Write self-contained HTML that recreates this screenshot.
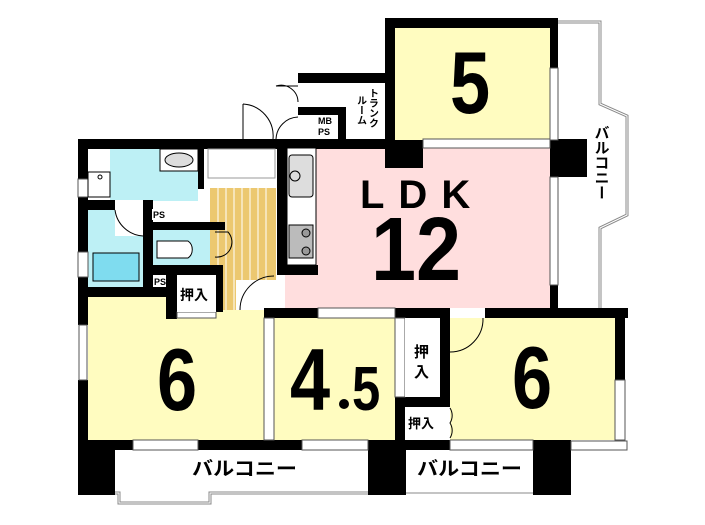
<!DOCTYPE html>
<html><head><meta charset="utf-8"><style>
body{margin:0;background:#fff}
svg{display:block}
text{font-family:"Liberation Sans","Noto Sans CJK JP",sans-serif;font-weight:bold;fill:#000}
</style></head><body>
<svg width="705" height="525" viewBox="0 0 705 525" xmlns="http://www.w3.org/2000/svg">
<rect width="705" height="525" fill="#fff"/>
<path d="M558 22 H600 V104 L627 116 V215 L600 228 V308" fill="none" stroke="#888" stroke-width="3"/>
<path d="M558 22 H600 V104 L627 116 V215 L600 228 V308" fill="none" stroke="#fff" stroke-width="1"/>
<path d="M115 493 H119 V503 H210 V493 H368" fill="none" stroke="#888" stroke-width="3"/>
<path d="M115 493 H119 V503 H210 V493 H368" fill="none" stroke="#fff" stroke-width="1"/>
<line x1="406" y1="493" x2="533" y2="493" stroke="#888" stroke-width="1"/>
<rect x="395" y="28" width="157" height="112" fill="#fffcc0"/>
<rect x="285" y="148" width="266" height="160" fill="#ffdede"/>
<rect x="88" y="297" width="176" height="143" fill="#fffcc0"/>
<rect x="274" y="318" width="121" height="122" fill="#fffcc0"/>
<rect x="450" y="318" width="165" height="122" fill="#fffcc0"/>
<rect x="110" y="149" width="88" height="52" fill="#bdf0f5"/>
<rect x="88" y="210" width="55" height="77" fill="#bdf0f5"/>
<rect x="153" y="230" width="62" height="35" fill="#bdf0f5"/>
<rect x="115" y="200" width="28" height="36" fill="#fff"/>
<rect x="210" y="188" width="66" height="122" fill="#ecc870"/>
<g stroke="#fff" stroke-width="1">
<line x1="218" y1="188" x2="218" y2="310"/><line x1="226" y1="188" x2="226" y2="310"/><line x1="234" y1="188" x2="234" y2="310"/><line x1="242" y1="188" x2="242" y2="310"/><line x1="250" y1="188" x2="250" y2="310"/><line x1="258" y1="188" x2="258" y2="310"/><line x1="266" y1="188" x2="266" y2="310"/>
</g>
<rect x="236" y="280" width="40" height="30" fill="#fff"/>
<path d="M240 310 A34 34 0 0 1 274 276" fill="none" stroke="#000"/>
<g fill="#000">
<rect x="385" y="18" width="173" height="10"/>
<rect x="385" y="18" width="10" height="150"/>
<rect x="550" y="18" width="8" height="50"/>
<rect x="385" y="140" width="38" height="28"/>
<rect x="550" y="139" width="37" height="38"/>
<rect x="550" y="285" width="8" height="33"/>
<rect x="298" y="73" width="87" height="10"/>
<rect x="298" y="107" width="45" height="8"/>
<rect x="338" y="107" width="8" height="32"/>
<rect x="78" y="139" width="207" height="10"/>
<rect x="275" y="139" width="110" height="10"/>
<rect x="277" y="148" width="10" height="127"/>
<rect x="277" y="265" width="41" height="10"/>
<rect x="198" y="149" width="6" height="40"/>
<rect x="78" y="139" width="10" height="40"/>
<rect x="78" y="197" width="10" height="100"/>
<rect x="78" y="200" width="37" height="10"/>
<rect x="143" y="200" width="10" height="97"/>
<rect x="143" y="222" width="82" height="8"/>
<rect x="143" y="265" width="73" height="10"/>
<rect x="216" y="265" width="7" height="47"/>
<rect x="78" y="287" width="88" height="10"/>
<rect x="166" y="275" width="11" height="44"/>
<rect x="78" y="297" width="10" height="28"/>
<rect x="78" y="380" width="10" height="70"/>
<rect x="264" y="308" width="54" height="10"/>
<rect x="395" y="308" width="55" height="10"/>
<rect x="485" y="308" width="143" height="10"/>
<rect x="440" y="308" width="10" height="99"/>
<rect x="395" y="397" width="55" height="10"/>
<rect x="395" y="397" width="10" height="53"/>
<rect x="615" y="308" width="10" height="72"/>
<rect x="78" y="440" width="55" height="10"/>
<rect x="198" y="440" width="104" height="10"/>
<rect x="405" y="440" width="45" height="10"/>
<rect x="78" y="440" width="37" height="55"/>
<rect x="368" y="440" width="38" height="55"/>
<rect x="533" y="440" width="38" height="55"/>
</g>
<g fill="#fff" stroke="#555" stroke-width="1">
<rect x="550" y="68" width="8" height="72"/>
<rect x="550" y="177" width="8" height="108"/>
<rect x="423" y="139" width="127" height="9"/>
<rect x="318" y="308" width="77" height="10"/>
<rect x="133" y="440" width="65" height="10"/>
<rect x="302" y="440" width="66" height="10"/>
<rect x="450" y="440" width="83" height="10"/>
<rect x="571" y="441" width="56" height="9"/>
<rect x="615" y="380" width="10" height="60"/>
<rect x="79" y="325" width="8" height="55"/>
<rect x="78" y="179" width="10" height="18"/>
<rect x="78" y="252" width="10" height="25"/>
<rect x="264" y="318" width="10" height="122"/>
<rect x="395" y="318" width="10" height="79"/>
<rect x="177" y="312" width="39" height="6"/>
</g>
<rect x="177" y="275" width="39" height="37" fill="#fff"/>
<rect x="405" y="318" width="35" height="79" fill="#fff"/>
<rect x="405" y="407" width="45" height="33" fill="#fff"/>
<path d="M450 408 A14 14 0 0 1 450 423 A14 14 0 0 1 450 438" fill="none" stroke="#000"/>
<path d="M450 352 A33 33 0 0 0 483 318" fill="none" stroke="#000"/>
<rect x="287" y="148" width="29" height="117" fill="#fff" stroke="#000"/>
<rect x="289" y="155" width="24" height="42" rx="3" fill="#ddd" stroke="#000"/>
<circle cx="295" cy="176" r="5" fill="#ddd" stroke="#000"/>
<rect x="289" y="225" width="24" height="33" fill="#bbb" stroke="#000"/>
<circle cx="306" cy="233" r="4" fill="#999" stroke="#000"/><circle cx="306" cy="251" r="4" fill="#999" stroke="#000"/>
<rect x="208" y="149" width="67" height="29" fill="#fff" stroke="#999"/>
<path d="M243 104 A32 32 0 0 1 273 139 M243 104 V139" fill="none" stroke="#000"/>
<path d="M276 86 A17 17 0 0 1 298 102 M276 86 H298" fill="none" stroke="#000"/>
<path d="M276 139 A23 23 0 0 1 298 117" fill="none" stroke="#000"/>
<rect x="160" y="149" width="38" height="22" fill="#fff" stroke="#000"/>
<ellipse cx="179" cy="160" rx="14" ry="7" fill="#ddd" stroke="#000"/>
<rect x="88" y="172" width="22" height="25" fill="#fff" stroke="#000"/>
<circle cx="100" cy="177" r="2" fill="#fff" stroke="#000"/>
<rect x="93" y="253" width="46" height="28" fill="#7fdcef" stroke="#000"/>
<path d="M115 210 A30 30 0 0 0 143 236" fill="none" stroke="#000"/>
<path d="M157 241 H188 A9 10 0 0 1 188 258 H157 Z" fill="#fff" stroke="#000"/>
<path d="M215 232 H228 A15 15 0 0 1 215 257" fill="none" stroke="#000"/>
<rect x="152" y="209" width="14" height="11" fill="#fff"/>
<rect x="153" y="276" width="13" height="11" fill="#fff"/>
<g font-size="9">
<text x="153" y="218">PS</text><text x="154" y="285">PS</text>
<text x="318" y="124">MB</text><text x="318" y="135">PS</text>
</g>
<text font-size="10" x="372" y="88" writing-mode="tb">トランク</text>
<text font-size="10" x="360" y="95" writing-mode="tb">ルーム</text>
<text x="180" y="300" font-size="14">押入</text>
<text x="414" y="357" font-size="15">押</text><text x="414" y="377" font-size="15">入</text>
<text x="408" y="428" font-size="13">押入</text>
<text x="601" y="125" font-size="15" writing-mode="tb">バルコニー</text>
<text x="192" y="475" font-size="19" textLength="105" lengthAdjust="spacingAndGlyphs">バルコニー</text>
<text x="417" y="475" font-size="19" textLength="105" lengthAdjust="spacingAndGlyphs">バルコニー</text>
<text transform="translate(450,113) scale(0.82,1)" font-size="88">5</text>
<text x="360" y="208" font-size="40" letter-spacing="14">LDK</text>
<text transform="translate(371,280) scale(0.9,1)" font-size="90">12</text>
<text transform="translate(157,410) scale(0.82,1)" font-size="88">6</text>
<text transform="translate(512,408) scale(0.82,1)" font-size="88">6</text>
<text transform="translate(290,410) scale(0.82,1)" font-size="88">4</text>
<circle cx="344" cy="404" r="5" fill="#000"/>
<text transform="translate(352,410) scale(0.82,1)" font-size="62">5</text>
</svg>
</body></html>
